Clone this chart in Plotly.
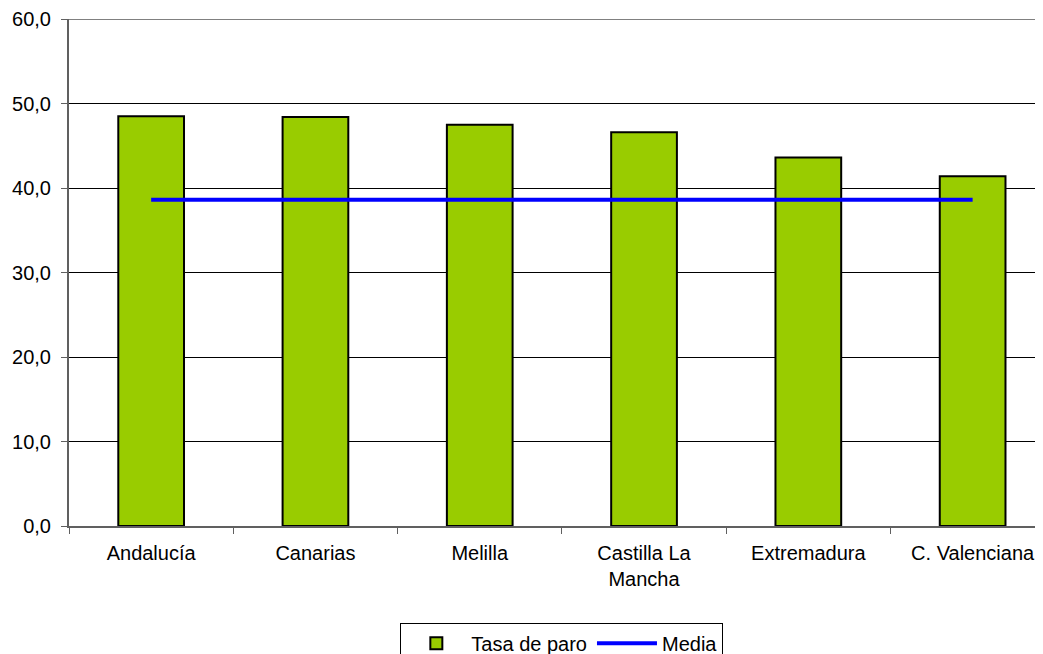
import plotly.graph_objects as go

regiones = ["Andalucía", "Canarias", "Melilla", "Castilla La<br>Mancha", "Extremadura", "C. Valenciana"]
tasa_paro = [48.5, 48.4, 47.5, 46.6, 43.6, 41.4]
media = [38.6, 38.6, 38.6, 38.6, 38.6, 38.6]

fig = go.Figure()
fig.add_trace(go.Bar(x=regiones, y=tasa_paro, name="Tasa de paro",
                     marker=dict(color="#99CC00", line=dict(color="black", width=2))))
fig.add_trace(go.Scatter(x=regiones, y=media, name="Media", mode="lines",
                         line=dict(color="#0000FF", width=4)))

# top border of the plot area (grey, like the original)
fig.add_shape(type="line", xref="paper", yref="y", x0=0, x1=1, y0=60, y1=60,
              line=dict(color="#808080", width=2))

# page body has an 8px margin, margins below compensate for it
fig.update_layout(
    width=1043, height=654,
    margin=dict(l=61, r=0, t=11, b=136, autoexpand=False),
    paper_bgcolor="white", plot_bgcolor="white",
    font=dict(family="Liberation Sans, Arial, sans-serif", size=20, color="black"),
    separators=",.",
    bargap=0.6,
    hovermode=False,
    showlegend=True,
    legend=dict(orientation="h", x=0.531, xanchor="center", xref="container",
                y=0.06, yanchor="top", yref="container",
                bordercolor="black", borderwidth=1, bgcolor="white",
                font=dict(size=20), itemwidth=60, tracegroupgap=0),
)
fig.update_xaxes(range=[-0.5, 5.477], tickson="boundaries", ticks="outside", ticklen=6,
                 tickcolor="#606060", showline=True, linecolor="#606060", linewidth=2,
                 showgrid=False, automargin=False, ticklabelstandoff=8, tickfont=dict(size=20))
fig.update_yaxes(range=[0, 60], dtick=10, tickformat=".1f", ticks="outside", ticklen=6,
                 tickcolor="#606060", showline=True, linecolor="#606060", linewidth=2,
                 showgrid=True, gridcolor="black", gridwidth=1, zeroline=False,
                 automargin=False, ticklabelstandoff=6, tickfont=dict(size=20))

fig.write_html("out.html")
